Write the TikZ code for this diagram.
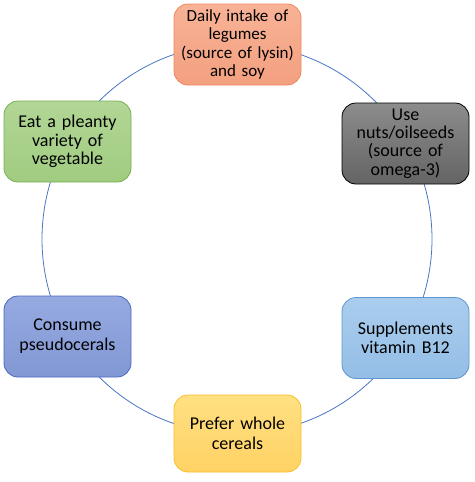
\documentclass[tikz,border=0pt]{standalone}
\usepackage{fontspec}
\setmainfont{Carlito}
\definecolor{ringc}{HTML}{4A76C6}
\tikzset{
  box/.style={draw, line width=0.8pt, rounded corners=14pt, minimum width=127pt, minimum height=81pt,
    text width=124pt, align=center, font=\fontsize{18}{19}\selectfont, inner sep=1.5pt},
}
\begin{document}
\begin{tikzpicture}[x=1pt,y=-1pt]
\useasboundingbox (0,0) rectangle (474,482);
\draw[ringc, line width=0.8pt] (237,239) circle[radius=195pt];
\node[box, font=\fontsize{17}{18.2}\selectfont, draw={rgb,255:red,238;green,135;blue,95}, top color={rgb,255:red,248;green,178;blue,150}, bottom color={rgb,255:red,243;green,160;blue,128}] (leg) at (237.5,44.5) {Daily intake of\\legumes\\(source of lysin)\\and soy};
\node[box, font=\fontsize{18}{18.3}\selectfont, draw=black, top color={rgb,255:red,140;green,140;blue,140}, bottom color={rgb,255:red,100;green,100;blue,100}] (nuts) at (405.5,143.5) {Use\\nuts/oilseeds\\(source of\\omega-3)};
\node[box, font=\fontsize{18}{18.4}\selectfont, draw={rgb,255:red,120;green,175;blue,80}, top color={rgb,255:red,178;green,214;blue,150}, bottom color={rgb,255:red,160;green,204;blue,128}] (veg) at (67.5,141.5) {Eat a pleanty\\variety of\\vegetable};
\node[box, font=\fontsize{18}{20}\selectfont, draw={rgb,255:red,75;green,105;blue,190}, top color={rgb,255:red,150;green,170;blue,225}, bottom color={rgb,255:red,130;green,152;blue,212}] (pseudo) at (67.5,336.5) {Consume\\pseudocerals};
\node[box, draw={rgb,255:red,95;green,150;blue,210}, top color={rgb,255:red,170;green,205;blue,238}, bottom color={rgb,255:red,148;green,190;blue,230}] (b12) at (405.5,338) {Supplements\\vitamin B12};
\node[box, font=\fontsize{18}{20}\selectfont, draw={rgb,255:red,250;green,190;blue,40}, top color={rgb,255:red,255;green,224;blue,130}, bottom color={rgb,255:red,255;green,210;blue,100}, minimum height=77pt] (cer) at (237.5,433.5) {Prefer whole\\cereals};
\end{tikzpicture}
\end{document}
